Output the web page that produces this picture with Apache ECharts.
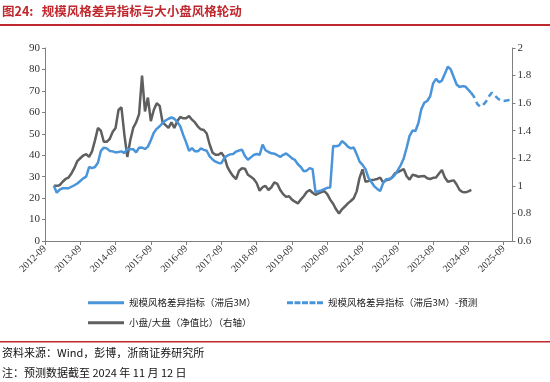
<!DOCTYPE html>
<html>
<head>
<meta charset="utf-8">
<script src="https://cdn.jsdelivr.net/npm/echarts@6/dist/echarts.min.js"></script>
<style>
html,body{margin:0;padding:0;background:#fff;}
#c{width:550px;height:382px;}
</style>
</head>
<body>
<div id="c"></div>
<script>
// x-axis: monthly categories from 2012-09 to 2025-12
const startYear = 2012, startMonth = 9, monthCount = 160;
// size-style difference indicator (lag 3M), left axis, from 2012-12 to 2024-10
const blueStart = 3;
const blueActual = [
25.8,22.5,24.0,24.6,24.6,24.6,25.3,26.0,26.8,28.0,
29.2,30.0,34.5,34.0,34.5,36.5,42.0,43.5,43.2,42.0,
41.8,41.3,41.5,41.8,41.0,43.0,42.8,42.8,41.3,43.5,
43.6,42.9,44.0,47.0,50.5,52.3,53.5,55.0,56.2,57.0,
57.6,57.0,55.5,53.5,49.5,46.0,42.0,43.3,41.8,41.8,
43.2,42.5,42.1,39.5,38.0,37.0,36.4,36.3,38.8,39.8,
40.4,40.6,41.7,42.2,42.6,39.6,37.9,39.0,40.1,40.6,
40.2,45.0,42.3,41.5,40.9,40.7,40.0,39.2,40.2,40.8,
39.8,38.5,37.8,35.8,34.5,32.5,32.8,34.0,33.5,22.8,
23.2,23.6,24.2,24.8,25.0,44.3,44.2,44.5,46.6,45.5,
44.0,43.2,43.6,40.5,37.0,35.5,33.5,29.5,27.5,25.5,
24.3,23.3,27.0,28.8,28.9,29.5,30.8,33.0,35.4,38.5,
43.5,49.0,51.5,51.3,55.0,61.5,64.5,65.3,67.5,73.5,
75.6,74.0,74.8,78.0,81.3,80.0,76.5,73.0,71.8,72.2,
72.0,70.5,69.0
];
// forecast, from 2024-10 to 2025-12
const forecastStart = 145;
const blueForecast = [69.0,67.0,64.0,62.6,63.5,65.0,67.5,69.2,67.8,66.5,65.5,65.3,65.5,65.7,65.8];
// small cap / large cap (NAV ratio), right axis, from 2012-12 to 2024-10
const grayStart = 3;
const grayRatio = [
1.00,1.00,1.005,1.03,1.05,1.06,1.09,1.13,1.18,1.20,
1.22,1.23,1.21,1.25,1.33,1.42,1.40,1.32,1.32,1.34,
1.39,1.42,1.55,1.57,1.37,1.21,1.33,1.42,1.46,1.52,
1.80,1.54,1.64,1.47,1.55,1.60,1.58,1.46,1.44,1.42,
1.46,1.42,1.47,1.50,1.49,1.49,1.506,1.48,1.46,1.43,
1.41,1.405,1.38,1.30,1.24,1.225,1.225,1.24,1.21,1.14,
1.10,1.07,1.05,1.11,1.127,1.125,1.08,1.066,1.05,1.02,
0.965,0.99,1.00,0.97,0.99,1.025,1.015,0.97,0.94,0.92,
0.925,0.90,0.885,0.873,0.90,0.925,0.955,0.97,0.95,0.935,
0.945,0.955,0.962,0.94,0.90,0.87,0.83,0.80,0.83,0.85,
0.873,0.89,0.91,0.96,1.06,1.12,1.03,1.035,1.042,1.045,
1.05,1.06,1.025,1.04,1.045,1.06,1.09,1.10,1.11,1.122,
1.07,1.045,1.08,1.075,1.066,1.07,1.072,1.055,1.05,1.058,
1.06,1.09,1.115,1.06,1.03,1.035,1.04,1.01,0.97,0.955,
0.953,0.96,0.97
];
const seriesNames = ['规模风格差异指标（滞后3M）','规模风格差异指标（滞后3M）-预测','小盘/大盘（净值比）（右轴）'];

const categories = [];
for (let i = 0; i < monthCount; i++) {
  const t = (startMonth - 1) + i;
  const y = startYear + Math.floor(t / 12);
  const m = (t % 12) + 1;
  categories.push(y + '-' + (m < 10 ? '0' + m : '' + m));
}
function pad(arr, start) {
  const out = new Array(monthCount).fill(null);
  arr.forEach((v, i) => { out[start + i] = v; });
  return out;
}

const BLUE = '#4a94da', GRAY = '#5f5f5f', RED = '#c0282e';
const serif = '"Liberation Serif","Noto Sans CJK SC",serif';
const cjk = '"Noto Sans CJK SC","Liberation Serif",sans-serif';
const solidIcon = 'path://M0,0H36V3H0Z';
const dashIcon = 'path://M0,0H6V3H0Z M7.5,0H13.5V3H7.5Z M15,0H21V3H15Z M22.5,0H28.5V3H22.5Z M30,0H36V3H30Z';

const chart = echarts.init(document.getElementById('c'), null, {renderer: 'canvas'});
chart.setOption({
  animation: false,
  backgroundColor: '#fff',
  grid: {left: 45, right: 37.5, top: 48, bottom: 141, containLabel: false},
  xAxis: {
    type: 'category', data: categories, boundaryGap: false,
    axisLine: {lineStyle: {color: '#7f7f7f', width: 1}},
    axisTick: {interval: 11, length: 4, lineStyle: {color: '#7f7f7f'}},
    axisLabel: {interval: 11, rotate: 45, margin: 6, fontFamily: serif, fontSize: 10, color: '#333'},
    splitLine: {show: false}
  },
  yAxis: [{
    type: 'value', min: 0, max: 90, interval: 10, position: 'left',
    axisLine: {show: true, lineStyle: {color: '#7f7f7f'}},
    axisTick: {show: true, length: 3, lineStyle: {color: '#7f7f7f'}},
    axisLabel: {margin: 5, fontFamily: serif, fontSize: 11, color: '#333'},
    splitLine: {show: false}
  }, {
    type: 'value', min: 0.6, max: 2, interval: 0.2, position: 'right',
    axisLine: {show: true, lineStyle: {color: '#7f7f7f'}},
    axisTick: {show: true, length: 3, lineStyle: {color: '#7f7f7f'}},
    axisLabel: {margin: 5, fontFamily: serif, fontSize: 11, color: '#333',
      formatter: v => String(Math.round(v * 10) / 10)},
    splitLine: {show: false}
  }],
  legend: [{
    data: [{name: seriesNames[0], icon: solidIcon}, {name: seriesNames[1], icon: dashIcon}],
    left: 83, top: 293, itemWidth: 36, itemHeight: 3, itemGap: 31,
    textStyle: {fontFamily: cjk, fontSize: 9.5, color: '#222'}
  }, {
    data: [{name: seriesNames[2], icon: solidIcon}],
    left: 83, top: 313, itemWidth: 36, itemHeight: 3,
    textStyle: {fontFamily: cjk, fontSize: 9.5, color: '#222'}
  }],
  series: [{
    name: seriesNames[0], type: 'line', yAxisIndex: 0, data: pad(blueActual, blueStart),
    symbol: 'none', connectNulls: false, lineStyle: {color: BLUE, width: 2.5}, itemStyle: {color: BLUE}, z: 3
  }, {
    name: seriesNames[1], type: 'line', yAxisIndex: 0, data: pad(blueForecast, forecastStart),
    symbol: 'none', lineStyle: {color: BLUE, width: 2.5, type: [6, 4]}, itemStyle: {color: BLUE}, z: 3
  }, {
    name: seriesNames[2], type: 'line', yAxisIndex: 1, data: pad(grayRatio, grayStart),
    symbol: 'none', lineStyle: {color: GRAY, width: 2.5}, itemStyle: {color: GRAY}, z: 2
  }],
  graphic: [
    {type: 'text', left: 2, top: 5, style: {text: '图24:   规模风格差异指标与大小盘风格轮动', fill: RED, font: 'bold 12.5px "Noto Sans CJK SC"'}},
    {type: 'rect', shape: {x: 0, y: 24, width: 550, height: 2}, style: {fill: RED}},
    {type: 'rect', shape: {x: 0, y: 341, width: 550, height: 1.5}, style: {fill: RED}},
    {type: 'text', left: 2, top: 347, style: {text: '资料来源：Wind，彭博，浙商证券研究所', fill: '#111', font: '11px "Noto Sans CJK SC"'}},
    {type: 'text', left: 2, top: 367, style: {text: '注：预测数据截至 2024 年 11 月 12 日', fill: '#111', font: '11px "Noto Sans CJK SC"'}}
  ]
});
</script>
</body>
</html>
